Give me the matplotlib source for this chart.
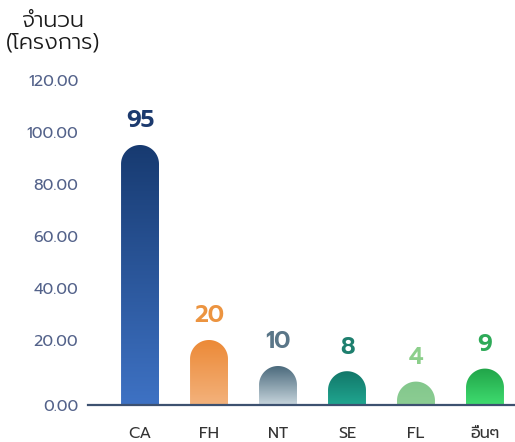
import numpy as np
import matplotlib
matplotlib.use("Agg")
import matplotlib.pyplot as plt
from matplotlib.path import Path
from matplotlib.patches import PathPatch
from matplotlib.colors import to_rgb
import matplotlib.transforms as mtransforms

plt.rcParams['font.family'] = ['Prompt', 'DejaVu Sans']

# ── Data ────────────────────────────────────────────────────────────────────
categories = ["CA", "FH", "NT", "SE", "FL", "อื่นๆ"]
values = [95, 20, 10, 8, 4, 9]
yticks = [0, 20, 40, 60, 80, 100, 120]

top_colors = ["#173a70", "#ec8936", "#4b6a7c", "#127769", "#83c78c", "#21a449"]
bottom_colors = ["#3e72c4", "#f3b27c", "#c7d5dd", "#20a690", "#8ccd93", "#3fdc6f"]
label_colors = ["#1c3a6e", "#ec9440", "#5a7688", "#1e7f6e", "#8ccf8b", "#2eaa58"]

BASE = -5          # bars stand on the axis line, slightly below zero
BAR_W = 0.55

# ── Figure ──────────────────────────────────────────────────────────────────
W, H = 515, 442
fig = plt.figure(figsize=(W / 100, H / 100), dpi=100)
ax = fig.add_axes([88 / W, 37 / H, 1 - 88 / W, 325 / H])
ax.set_xlim(-0.754, len(categories) - 1 + 0.435)
ax.set_ylim(BASE, 120)

# pixel scale, to make the round caps circular
px_x = ax.get_position().width * W / np.diff(ax.get_xlim())[0]
px_y = ax.get_position().height * H / np.diff(ax.get_ylim())[0]
rx = BAR_W / 2
ry = rx * px_x / px_y


def bar_path(x, top):
    ys = max(top - ry, BASE)
    t = np.linspace(np.pi, 0, 60)
    arc = np.column_stack([x + rx * np.cos(t), ys + ry * np.sin(t)])
    verts = [(x - rx, BASE), (x - rx, ys)] + arc.tolist() + [(x + rx, ys), (x + rx, BASE), (x - rx, BASE)]
    codes = [Path.MOVETO] + [Path.LINETO] * (len(verts) - 2) + [Path.CLOSEPOLY]
    return Path(verts, codes)


for i, (v, c_top, c_bot, lc) in enumerate(zip(values, top_colors, bottom_colors, label_colors)):
    patch = PathPatch(bar_path(i, v), facecolor="none", edgecolor="none")
    ax.add_patch(patch)
    frac = np.linspace(0, 1, 256)[:, None]
    grad = (1 - frac) * np.array(to_rgb(c_bot)) + frac * np.array(to_rgb(c_top))
    im = ax.imshow(grad[:, None, :], extent=[i - rx, i + rx, BASE, v],
                   origin="lower", aspect="auto", interpolation="bilinear", zorder=2)
    im.set_clip_path(patch)
    ax.annotate(str(v), (i, v), xytext=(0, 9), textcoords="offset points",
                ha="center", va="bottom", fontsize=17, fontweight="semibold",
                color=lc, zorder=3)

# ── Axes styling ────────────────────────────────────────────────────────────
for s in ["top", "right", "left"]:
    ax.spines[s].set_visible(False)
ax.spines["bottom"].set_color("#3d5170")
ax.spines["bottom"].set_linewidth(1.6)
ax.spines["bottom"].set_zorder(4)

ax.set_xticks(range(len(categories)))
ax.set_xticklabels(categories)
ax.set_yticks(yticks)
ax.set_yticklabels([f"{t:.2f}" for t in yticks])
ax.tick_params(axis="x", length=0, pad=15, labelsize=11.5, labelcolor="#333333")
ax.tick_params(axis="y", length=0, pad=7, labelsize=11.5, labelcolor="#53628a")

# the 0.00 label sits on the axis line
zero_lbl = ax.get_yticklabels()[0]
zero_lbl.set_transform(zero_lbl.get_transform() +
                       mtransforms.ScaledTranslation(0, -13 / 100, fig.dpi_scale_trans))

fig.text(53 / W, 1 - 32 / H, "จำนวน\n(โครงการ)", ha="center", va="center",
         fontsize=16, fontweight=300, color="#1a1a1a", linespacing=0.95)

fig.savefig("out.png", dpi=100)
